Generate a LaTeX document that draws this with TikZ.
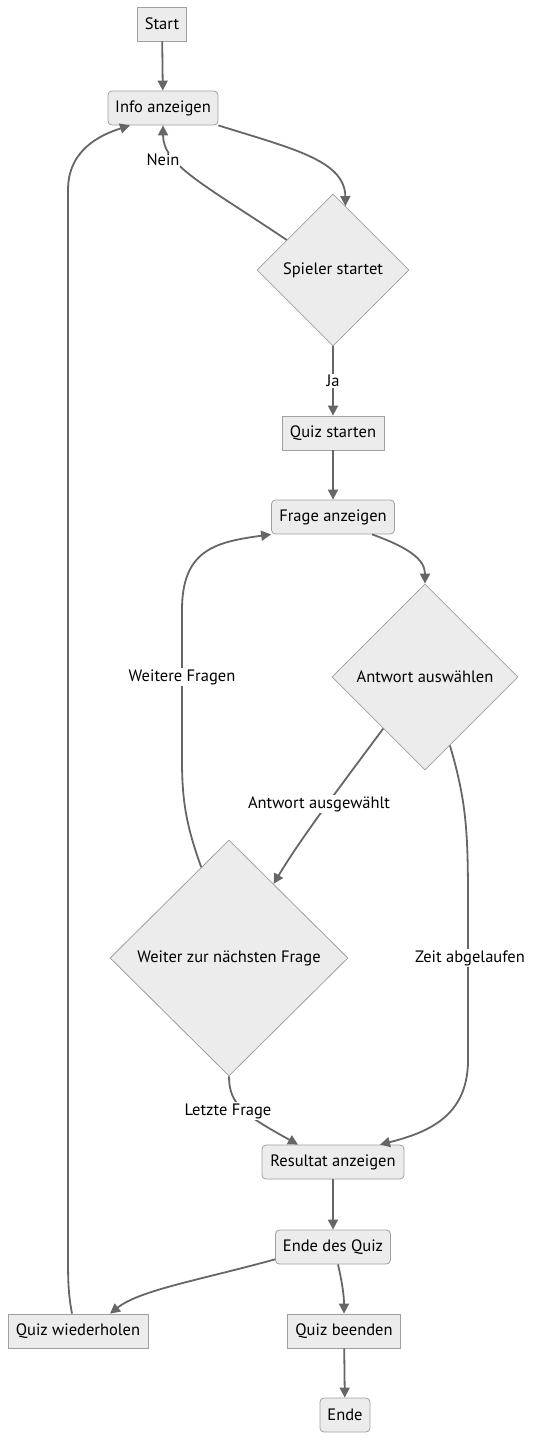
\documentclass[tikz,border=0pt]{standalone}
\usepackage{fontspec}
\setmainfont{PT Sans}
\usetikzlibrary{shapes.geometric,arrows.meta}
\definecolor{boxfill}{HTML}{ECECEC}
\definecolor{boxline}{HTML}{A0A0A0}
\definecolor{edgeline}{HTML}{666666}
\begin{document}
\begin{tikzpicture}[
    x=1pt, y=-1pt,
    >={Triangle[length=10pt,width=10pt]},
    every node/.style={font=\fontsize{16.5}{19}\selectfont},
    box/.style={
        draw=boxline, line width=0.8pt, fill=boxfill,
        minimum height=34pt, inner xsep=7pt
    },
    rbox/.style={box, rounded corners=4pt},
    decide/.style={
        diamond, draw=boxline, line width=0.8pt, fill=boxfill,
        inner sep=0pt, aspect=1
    },
    edge/.style={->, draw=edgeline, line width=1.8pt},
    lbl/.style={fill=white, inner sep=1pt}
]
\useasboundingbox (0,0) rectangle (534,1440);

% ----------------------------------------------------------
% Knoten
% ----------------------------------------------------------
\node[box, minimum width=49pt]  (start)   at (162, 24)  {Start};
\node[rbox, minimum width=110pt] (info)   at (163, 108) {Info anzeigen};
\node[decide, minimum width=152pt, minimum height=152pt] (spieler) at (333, 270) {Spieler startet};
\node[box, minimum width=102pt] (quiz)    at (333, 433) {Quiz starten};
\node[rbox, minimum width=123pt] (frage)  at (333, 517) {Frage anzeigen};
\node[decide, minimum width=186pt, minimum height=186pt] (antwort) at (425, 677) {Antwort auswählen};
\node[decide, minimum width=238pt, minimum height=236pt] (weiter)  at (229, 958) {Weiter zur nächsten Frage};
\node[rbox, minimum width=142pt] (result) at (333, 1162) {Resultat anzeigen};
\node[rbox, minimum width=115pt] (ende)   at (333, 1247) {Ende des Quiz};
\node[box, minimum width=140pt] (wdh)     at (78, 1331)  {Quiz wiederholen};
\node[box, minimum width=113pt] (beenden) at (344, 1331) {Quiz beenden};
\node[rbox, minimum width=50pt] (schluss) at (345, 1415) {Ende};

% ----------------------------------------------------------
% Verbindungen
% ----------------------------------------------------------
\draw[edge] (start) -- (info);
\draw[edge] (info.south east) .. controls (290,148) and (345,160) .. (spieler.79);
\draw[edge] (spieler.147) .. controls (205,185) and (163,165) .. (info.south);
\draw[edge] (spieler) -- (quiz);
\draw[edge] (quiz) -- (frage);
\draw[edge] (frage.-24.7) .. controls (410,548) and (425,560) .. (antwort.north);
\draw[edge] (antwort.231.6) .. controls (330,800) and (300,840) .. (weiter.59.3);
\draw[edge] (antwort.-70) .. controls (466,800) and (468,830) .. (468,900)
    -- (468,1060) .. controls (468,1115) and (430,1132) .. ([xshift=47pt]result.north);
\draw[edge] (weiter.107) .. controls (186,825) and (182,800) .. (182,760)
    -- (182,610) .. controls (182,550) and (215,542) .. (frage.south west);
\draw[edge] (weiter.south) .. controls (229,1105) and (245,1115) .. ([xshift=-35pt]result.north);
\draw[edge] (result) -- (ende);
\draw[edge] (ende.192.6) .. controls (200,1280) and (140,1290) .. ([xshift=32pt]wdh.north);
\draw[edge] ([xshift=5pt]ende.south) .. controls (342,1282) and (344,1295) .. (beenden.north);
\draw[edge] ([xshift=-6pt]wdh.north) .. controls (68,1292) and (68,1280) .. (68,1250)
    -- (68,190) .. controls (68,150) and (100,135) .. ([xshift=-33pt]info.south);
\draw[edge] (beenden) -- (schluss);

% ----------------------------------------------------------
% Beschriftungen der Kanten
% ----------------------------------------------------------
\node[lbl] (lnein)   at (163, 160)  {Nein};
\node[lbl] (lja)     at (333, 381)  {Ja};
\node[lbl] (lausw)   at (319, 804)  {Antwort ausgewählt};
\node[lbl] (lzeit)   at (470, 958)  {Zeit abgelaufen};
\node[lbl] (lweiter) at (182, 677)  {Weitere Fragen};
\node[lbl] (lletzte) at (228, 1111) {Letzte Frage};

\end{tikzpicture}
\end{document}
